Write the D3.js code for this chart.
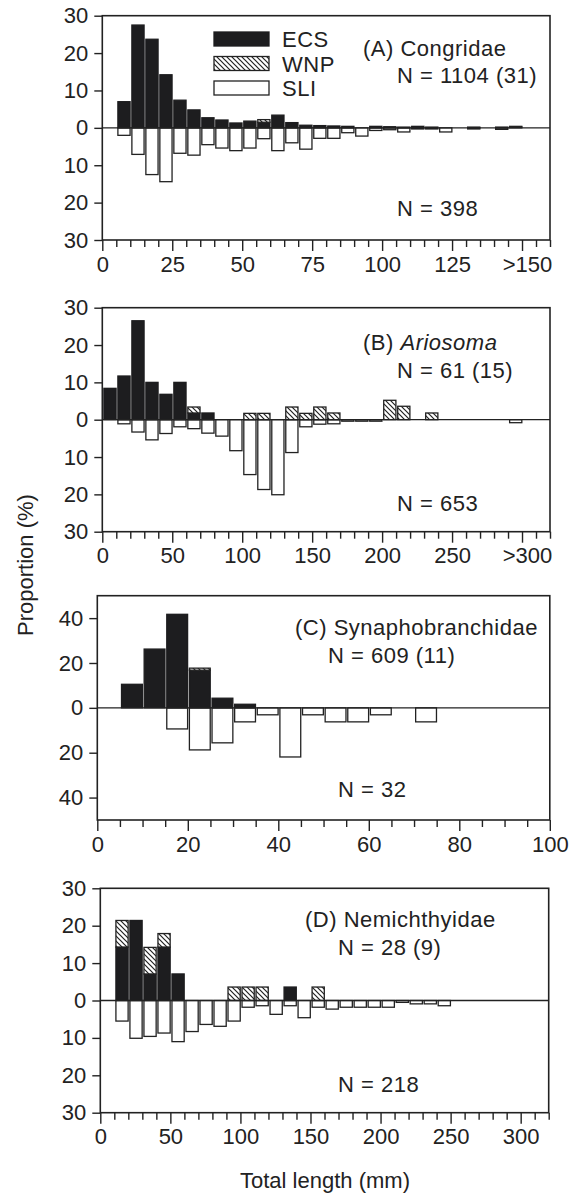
<!DOCTYPE html>
<html>
<head>
<meta charset="utf-8">
<script src="https://cdn.jsdelivr.net/npm/d3@7"></script>
<style>
  html, body { margin: 0; padding: 0; background: #fff; }
  svg { display: block; }
  text { font-family: "Liberation Sans", Arial, Helvetica, sans-serif; fill: #222; }
</style>
</head>
<body>
<svg id="chart" width="581" height="1201"></svg>
<script>
// ---------------- DATA ----------------
// Panel A: Congridae, 5-mm bins starting at 5 mm
const aBins = [5,10,15,20,25,30,35,40,45,50,55,60,65,70,75,80,85,90,95,100,105,110,115,120,125,130,135,140,145,150];
const aECS  = [7,27.5,23.7,14.2,7.4,4.8,2.7,2.1,1.3,1.8,1.5,3.4,1.4,0.7,0.6,0.5,0.4,0,0.4,0.3,0.2,0.4,0.2,0,0,0.2,0,0.2,0.2,0];
const aWNP  = [0,0,0,0,0,0,0,0,0,0,0.7,0,0,0,0,0,0,0,0,0,0,0,0,0,0,0,0,0,0.2,0];
const aSLI  = [2.0,7.1,12.5,14.4,6.8,7.3,4.5,5.4,6.1,5.4,2.9,6.1,4.0,5.7,2.8,2.8,1.3,2.2,0.7,0.5,1.1,0.3,0.3,1.1,0,0.3,0,0.4,0,0];
const aTickValues = [0,25,50,75,100,125,150];
const aTickLabels = ["0","25","50","75","100","125",">150"];
const aYTicks = [30,20,10,0,-10,-20,-30];

// Panel B: Ariosoma, 10-mm bins starting at 0 mm
const bBins = [0,10,20,30,40,50,60,70,80,90,100,110,120,130,140,150,160,170,180,190,200,210,220,230,240,250,260,270,280,290];
const bECS  = [8.4,11.7,26.5,10.0,6.8,10.0,1.8,1.8,0,0,0,0,0,0,0,0,0,0,0,0,0,0,0,0,0,0,0,0,0,0];
const bWNP  = [0,0,0,0,0,0,1.6,0,0,0,1.7,1.7,0,3.4,1.7,3.4,1.8,0,0,0,5.2,3.6,0,1.8,0,0,0,0,0,0];
const bSLI  = [0,1.1,3.3,5.4,3.7,1.9,2.4,3.6,4.4,8.3,14.7,18.7,20.1,8.8,1.9,1.2,1.1,0.4,0.4,0.4,0,0,0,0,0,0,0,0,0,0.8];
const bTickValues = [0,50,100,150,200,250,300];
const bTickLabels = ["0","50","100","150","200","250",">300"];
const bYTicks = [30,20,10,0,-10,-20,-30];

// Panel C: Synaphobranchidae, 5-mm bins starting at 5 mm
const cBins = [5,10,15,20,25,30,35,40,45,50,55,60,65,70];
const cECS  = [10.5,26.2,41.7,16.8,4.3,1.6,0,0,0,0,0,0,0,0];
const cWNP  = [0,0,0,0.9,0,0,0,0,0,0,0,0,0,0];
const cSLI  = [0,0,9.4,18.75,15.6,6.25,3.1,21.9,3.1,6.25,6.25,3.1,0,6.25];
const cTickValues = [0,20,40,60,80,100];
const cTickLabels = ["0","20","40","60","80","100"];
const cYTicks = [40,20,0,-20,-40];

// Panel D: Nemichthyidae, 10-mm bins starting at 10 mm
const dBins = [10,20,30,40,50,60,70,80,90,100,110,120,130,140,150,160,170,180,190,200,210,220,230,240];
const dECS  = [14.3,21.4,7.1,14.3,7.1,0,0,0,0,0,0,0,3.6,0,0,0,0,0,0,0,0,0,0,0];
const dWNP  = [7.1,0,7.1,3.6,0,0,0,0,3.6,3.6,3.6,0,0,0,3.6,0,0,0,0,0,0,0,0,0];
const dSLI  = [5.5,10.1,9.6,8.7,11.0,8.3,6.4,6.9,5.5,1.8,1.4,3.7,1.4,4.6,1.8,2.3,1.8,1.8,1.8,1.8,0.5,0.9,0.9,1.4];
const dTickValues = [0,50,100,150,200,250,300];
const dTickLabels = ["0","50","100","150","200","250","300"];
const dYTicks = [30,20,10,0,-10,-20,-30];

const legendLabels = ["ECS","WNP","SLI"];

// ---------------- LAYOUT ----------------
const panels = [
  { bins:aBins, ecs:aECS, wnp:aWNP, sli:aSLI, binW:5, xMax:160, yMax:30,
    tickValues:aTickValues, tickLabels:aTickLabels, minorStep:5, yTicks:aYTicks,
    x0:102.3, x1:550, y0:15.7, y1:240, lastLabelShift:5,
    title:["(A) ", "Congridae", false], titlePos:[363,56],
    nTop:"N = 1104 (31)", nTopPos:[397,83], nBot:"N = 398", nBotPos:[397,216], legend:true },
  { bins:bBins, ecs:bECS, wnp:bWNP, sli:bSLI, binW:10, xMax:320, yMax:30,
    tickValues:bTickValues, tickLabels:bTickLabels, minorStep:10, yTicks:bYTicks,
    x0:102.3, x1:550, y0:307.7, y1:531.7, lastLabelShift:5,
    title:["(B) ", "Ariosoma", true], titlePos:[363,350],
    nTop:"N = 61 (15)", nTopPos:[397,378], nBot:"N = 653", nBotPos:[397,511] },
  { bins:cBins, ecs:cECS, wnp:cWNP, sli:cSLI, binW:5, xMax:100, yMax:50,
    tickValues:cTickValues, tickLabels:cTickLabels, minorStep:5, yTicks:cYTicks,
    x0:97.3, x1:549.8, y0:595.7, y1:820, lastLabelShift:0,
    title:["(C) ", "Synaphobranchidae", false], titlePos:[295,635],
    nTop:"N = 609 (11)", nTopPos:[328,663], nBot:"N = 32", nBotPos:[338,797] },
  { bins:dBins, ecs:dECS, wnp:dWNP, sli:dSLI, binW:10, xMax:320, yMax:30,
    tickValues:dTickValues, tickLabels:dTickLabels, minorStep:10, yTicks:dYTicks,
    x0:100.3, x1:548.7, y0:888.3, y1:1112.7, lastLabelShift:0,
    title:["(D) ", "Nemichthyidae", false], titlePos:[305,927],
    nTop:"N = 28 (9)", nTopPos:[338,955], nBot:"N = 218", nBotPos:[338,1092] }
];

const INK = "#222";
const BLACK = "#1d1d1f";
const FS = 22;
const LS = 0.5;

const svg = d3.select("#chart");
const defs = svg.append("defs");
const pat = defs.append("pattern")
  .attr("id", "hatch").attr("patternUnits", "userSpaceOnUse")
  .attr("width", 5).attr("height", 5);
pat.append("rect").attr("width", 5).attr("height", 5).attr("fill", "#fff");
pat.append("path").attr("d", "M0,0 L5,5 M-1,4 L1,6 M4,-1 L6,1")
  .attr("stroke", INK).attr("stroke-width", 1.2);

panels.forEach(p => {
  const x = d3.scaleLinear().domain([0, p.xMax]).range([p.x0, p.x1]);
  const y = d3.scaleLinear().domain([-p.yMax, p.yMax]).range([p.y1, p.y0]);
  const g = svg.append("g");
  const rows = p.bins.map((b, i) => ({ b, ecs: p.ecs[i], wnp: p.wnp[i], sli: p.sli[i] }));
  const bx = d => x(d.b) + 1.6;
  const bw = d => x(d.b + p.binW) - x(d.b) - 1.8;

  // SLI bars (below zero)
  g.selectAll(".sli").data(rows.filter(d => d.sli > 0)).join("rect")
    .attr("x", bx).attr("width", bw)
    .attr("y", y(0)).attr("height", d => y(-d.sli) - y(0))
    .attr("fill", "#fff").attr("stroke", INK).attr("stroke-width", 1.3);
  // ECS bars
  g.selectAll(".ecs").data(rows.filter(d => d.ecs > 0)).join("rect")
    .attr("x", bx).attr("width", bw)
    .attr("y", d => y(d.ecs)).attr("height", d => y(0) - y(d.ecs))
    .attr("fill", BLACK).attr("stroke", BLACK).attr("stroke-width", 1.3);
  // WNP bars stacked on ECS
  g.selectAll(".wnp").data(rows.filter(d => d.wnp > 0)).join("rect")
    .attr("x", bx).attr("width", bw)
    .attr("y", d => y(d.ecs + d.wnp)).attr("height", d => y(d.ecs) - y(d.ecs + d.wnp))
    .attr("fill", "url(#hatch)").attr("stroke", INK).attr("stroke-width", 1.3);

  // zero line
  g.append("line").attr("x1", p.x0).attr("x2", p.x1)
    .attr("y1", y(0)).attr("y2", y(0)).attr("stroke", INK).attr("stroke-width", 1.3);

  // frame
  g.append("rect").attr("x", p.x0).attr("y", p.y0)
    .attr("width", p.x1 - p.x0).attr("height", p.y1 - p.y0)
    .attr("fill", "none").attr("stroke", INK).attr("stroke-width", 1.6);

  // minor x ticks
  const minor = d3.range(0, p.xMax + 0.001, p.minorStep).filter(v => !p.tickValues.includes(v));
  const minorAxis = g.append("g").attr("transform", `translate(0,${p.y1})`)
    .call(d3.axisBottom(x).tickValues(minor).tickSize(7).tickFormat(""));
  minorAxis.select(".domain").remove();
  minorAxis.selectAll("line").attr("stroke", INK).attr("stroke-width", 1.4);

  // major x ticks
  const majorAxis = g.append("g").attr("transform", `translate(0,${p.y1})`)
    .call(d3.axisBottom(x).tickValues(p.tickValues).tickSize(11).tickPadding(5)
      .tickFormat((v, i) => p.tickLabels[i]));
  majorAxis.select(".domain").remove();
  majorAxis.selectAll("line").attr("stroke", INK).attr("stroke-width", 1.4);
  majorAxis.selectAll("text").attr("font-size", FS).attr("fill", INK)
    .attr("font-family", '"Liberation Sans", Arial, sans-serif')
    .attr("dx", (v, i) => i === p.tickValues.length - 1 ? p.lastLabelShift : 0);

  // y axis
  const yAxis = g.append("g").attr("transform", `translate(${p.x0},0)`)
    .call(d3.axisLeft(y).tickValues(p.yTicks).tickSize(8).tickPadding(6)
      .tickFormat(v => Math.abs(v)));
  yAxis.select(".domain").remove();
  yAxis.selectAll("line").attr("stroke", INK).attr("stroke-width", 1.4);
  yAxis.selectAll("text").attr("font-size", FS).attr("fill", INK)
    .attr("font-family", '"Liberation Sans", Arial, sans-serif');

  // annotations
  const t = g.append("text").attr("x", p.titlePos[0]).attr("y", p.titlePos[1])
    .attr("font-size", FS).attr("letter-spacing", LS);
  t.append("tspan").text(p.title[0]);
  t.append("tspan").text(p.title[1]).attr("font-style", p.title[2] ? "italic" : "normal");
  g.append("text").attr("x", p.nTopPos[0]).attr("y", p.nTopPos[1])
    .attr("font-size", FS).attr("letter-spacing", LS).text(p.nTop);
  g.append("text").attr("x", p.nBotPos[0]).attr("y", p.nBotPos[1])
    .attr("font-size", FS).attr("letter-spacing", LS).text(p.nBot);

  if (p.legend) {
    const fills = [BLACK, "url(#hatch)", "#fff"];
    const lg = g.append("g");
    legendLabels.forEach((lab, i) => {
      const cy = 39 + i * 24.5;
      lg.append("rect").attr("x", 214).attr("y", cy - 7).attr("width", 55).attr("height", 14)
        .attr("fill", fills[i]).attr("stroke", i === 0 ? BLACK : INK).attr("stroke-width", 1.3);
      lg.append("text").attr("x", 282).attr("y", cy + 8).attr("font-size", FS)
        .attr("letter-spacing", LS).text(lab);
    });
  }
});

// axis titles
svg.append("text").attr("transform", "translate(33,565) rotate(-90)")
  .attr("text-anchor", "middle").attr("font-size", FS).text("Proportion (%)");
svg.append("text").attr("x", 325).attr("y", 1188)
  .attr("text-anchor", "middle").attr("font-size", FS).text("Total length (mm)");
</script>
</body>
</html>
